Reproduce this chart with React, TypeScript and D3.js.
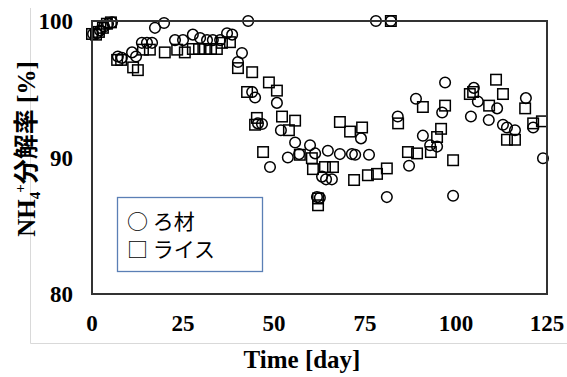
import * as d3 from "d3";

// ろ材 (filter media) series: [day, NH4+ removal %]
const roDays = [0.3, 1.4, 2.2, 3.3, 4.4, 5.5, 7.1, 8.2, 11, 12.1, 13.7, 15.1, 16.5, 17.3, 19.8, 22.8, 25, 27.7, 29.7, 31.6, 33.2, 35.2, 37.1, 38.5, 40.1, 41.2, 42.9, 44, 44.8, 45.6, 46.7, 48.9, 50.8, 51.9, 53.8, 55.8, 56.9, 59.9, 61.3, 61.8, 62.6, 63.2, 64.3, 65.9, 64.8, 68.1, 71.4, 72.3, 73.9, 76.1, 78, 81, 82.1, 84, 87.1, 89, 90.9, 92.9, 94.8, 96.2, 97, 99.2, 104.1, 104.9, 106, 109, 111.3, 112.9, 114, 116.2, 119.2, 121.2, 123.9];
const roValues = [99.05, 99.1, 99.3, 99.6, 99.8, 99.9, 97.4, 97.3, 97.7, 97.4, 98.4, 98.4, 98.4, 99.5, 99.85, 98.6, 98.6, 99.0, 98.75, 98.6, 98.6, 98.6, 99.1, 99.0, 97.0, 97.65, 100, 94.8, 94.4, 92.5, 92.45, 89.3, 94.0, 92.0, 90.0, 91.1, 90.25, 90.9, 90.3, 87.1, 87.05, 88.6, 88.4, 88.4, 90.5, 90.25, 90.25, 90.2, 91.4, 90.2, 100, 87.1, 100, 93.0, 89.4, 94.3, 91.6, 90.9, 90.8, 93.3, 95.5, 87.2, 93.0, 95.1, 94.1, 92.75, 93.6, 92.4, 92.2, 92.0, 94.35, 92.2, 89.95];

// ライス (rice) series
const riceDays = [0, 1.1, 1.9, 3, 4.1, 5.2, 6.9, 8, 11.3, 12.6, 14, 15.9, 20, 23.4, 25.5, 27.7, 29.4, 31, 32.7, 34.3, 35.7, 37.9, 40.1, 42.6, 44, 45.3, 44.8, 48.6, 50.8, 52.2, 55.8, 47, 54.1, 57.1, 60.7, 60.4, 64, 66.2, 62.1, 62.1, 68.1, 70.9, 74.2, 72, 75.8, 78.3, 81, 82.1, 84.1, 86.8, 89.3, 90.9, 93.1, 94.8, 95.9, 97, 99.2, 103.8, 104.7, 109.1, 111, 112.9, 114, 116.2, 119, 121.2, 123.6];
const riceValues = [99.05, 99.0, 99.2, 99.5, 99.8, 99.9, 97.15, 97.15, 96.6, 96.4, 97.9, 97.9, 97.7, 97.9, 97.7, 97.95, 97.95, 97.95, 97.95, 97.95, 98.4, 98.45, 96.55, 94.8, 96.25, 92.9, 92.4, 95.5, 94.9, 93.0, 92.7, 90.4, 92.0, 90.2, 89.15, 89.95, 89.3, 89.3, 87.0, 86.5, 92.6, 91.9, 92.2, 88.35, 88.7, 88.8, 89.2, 100, 92.5, 90.4, 90.3, 93.7, 90.4, 91.5, 92.1, 93.8, 89.8, 94.65, 94.8, 93.8, 95.7, 94.65, 91.3, 91.3, 93.6, 92.5, 92.65];

const xTicks = [0, 25, 50, 75, 100, 125];
const yTicks = [80, 90, 100];
const legendLabels = ["○ ろ材", "□ ライス"];

const W = 567;
const H = 377;
const margin = { top: 21, right: 20, bottom: 83, left: 92 };

export default function App() {
    const x = d3.scaleLinear().domain([0, 125]).range([margin.left, W - margin.right]);
    const y = d3.scaleLinear().domain([80, 100]).range([H - margin.bottom, margin.top]);

    const roPts = roDays.map((d, i) => [x(d), y(roValues[i])]);
    const ricePts = riceDays.map((d, i) => [x(d), y(riceValues[i])]);
    const s = 10.5;
    const serif = "'Liberation Serif', 'Times New Roman', serif";

    return (
        <svg
            width={W}
            height={H}
            style={{ position: "absolute", left: 0, top: 0, background: "#fff" }}
        >
            {/* faint chart-area border */}
            <line x1={30.5} y1={8} x2={30.5} y2={343.5} stroke="#d9d9d9" />
            <line x1={30.5} y1={343.5} x2={W} y2={343.5} stroke="#d9d9d9" />

            {/* rice squares */}
            <g fill="none" stroke="#000" strokeWidth={1.5}>
                {ricePts.map(([px, py], i) => (
                    <rect key={i} x={px - s / 2} y={py - s / 2} width={s} height={s} />
                ))}
            </g>
            {/* filter media circles */}
            <g fill="none" stroke="#000" strokeWidth={1.5}>
                {roPts.map(([px, py], i) => (
                    <circle key={i} cx={px} cy={py} r={5.3} />
                ))}
            </g>

            {/* plot frame */}
            <rect
                x={x(0)}
                y={y(100)}
                width={x(125) - x(0)}
                height={y(80) - y(100)}
                fill="none"
                stroke="#333"
                strokeWidth={2}
            />

            {/* y tick labels */}
            {yTicks.map((t) => (
                <text
                    key={t}
                    x={73}
                    y={y(t) + 8}
                    textAnchor="end"
                    fontFamily={serif}
                    fontWeight="bold"
                    fontSize={23}
                    fill="#000"
                >
                    {t}
                </text>
            ))}

            {/* x tick labels */}
            {xTicks.map((t) => (
                <text
                    key={t}
                    x={x(t)}
                    y={331}
                    textAnchor="middle"
                    fontFamily={serif}
                    fontWeight="bold"
                    fontSize={23}
                    fill="#000"
                >
                    {t}
                </text>
            ))}

            {/* x title */}
            <text
                x={302}
                y={368}
                textAnchor="middle"
                fontFamily={serif}
                fontWeight="bold"
                fontSize={25}
            >
                Time [day]
            </text>

            {/* y title */}
            <text
                transform="translate(35,149) rotate(-90)"
                textAnchor="middle"
                fontFamily={`${serif}, 'Noto Sans CJK JP'`}
                fontWeight="bold"
                fontSize={25}
            >
                NH
                <tspan fontSize={15} dy={5}>4</tspan>
                <tspan fontSize={15} dx={-1} dy={-15}>+</tspan>
                <tspan dy={10} fontFamily="'Noto Sans CJK JP', sans-serif">分解率</tspan>
                <tspan> [%]</tspan>
            </text>

            {/* legend */}
            <rect x={117.5} y={197.5} width={145} height={74} fill="#fff" stroke="#5a7fb5" strokeWidth={1.3} />
            {legendLabels.map((l, i) => (
                <text
                    key={l}
                    x={127}
                    y={229 + i * 28}
                    fontFamily="'Noto Sans CJK JP', sans-serif"
                    fontSize={21}
                    fill="#000"
                >
                    {l}
                </text>
            ))}
        </svg>
    );
}
